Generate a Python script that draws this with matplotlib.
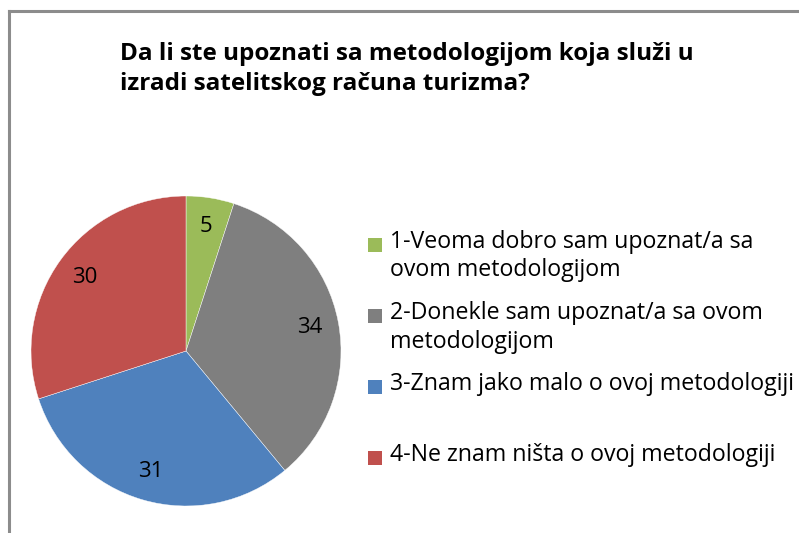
import matplotlib.pyplot as plt
from matplotlib.patches import Rectangle
from matplotlib.lines import Line2D

title = "Da li ste upoznati sa metodologijom koja služi u\nizradi satelitskog računa turizma?"
values = [5, 34, 31, 30]
labels = [
    "1-Veoma dobro sam upoznat/a sa\novom metodologijom",
    "2-Donekle sam upoznat/a sa ovom\nmetodologijom",
    "3-Znam jako malo o ovoj metodologiji",
    "4-Ne znam ništa o ovoj metodologiji",
]
colors = ["#9BBB59", "#7F7F7F", "#4F81BD", "#C0504D"]

plt.rcParams["font.family"] = ["Open Sans", "DejaVu Sans"]

W, H = 799, 533
fig = plt.figure(figsize=(W / 100, H / 100), dpi=100)

# chart frame (only left and top edges visible)
fig.add_artist(Line2D([9 / W, 9 / W], [0, 1 - 11 / H], color="#8c8c8c", lw=2.2))
fig.add_artist(Line2D([9 / W, 1], [1 - 11 / H, 1 - 11 / H], color="#8c8c8c", lw=2.2))

# pie: center (186, 351) px, radius 155 px
cx, cy, r = 186, 351, 155
ax = fig.add_axes([(cx - r) / W, 1 - (cy + r) / H, 2 * r / W, 2 * r / H])
total = sum(values)
ax.pie(values, colors=colors, startangle=90, counterclock=False,
       autopct=lambda p: f"{round(p * total / 100)}", pctdistance=0.81,
       textprops=dict(fontsize=16, color="black"),
       wedgeprops=dict(edgecolor="white", linewidth=0.3))
ax.set_xlim(-1, 1)
ax.set_ylim(-1, 1)
ax.set_aspect("equal")
ax.axis("off")

fig.text(120 / W, 1 - 69 / H, title, fontsize=17.5, fontweight="bold",
         ha="left", va="center", linespacing=1.35)

# legend
for i, (lab, col) in enumerate(zip(labels, colors)):
    y = 245 + i * 71
    fig.add_artist(Rectangle((368 / W, 1 - (y + 7) / H), 14 / W, 14 / H,
                             facecolor=col, edgecolor="none"))
    fig.text(390 / W, 1 - (y - 15) / H, lab, fontsize=16.7, ha="left", va="top",
             linespacing=1.25)

fig.savefig("out.png", dpi=100)
